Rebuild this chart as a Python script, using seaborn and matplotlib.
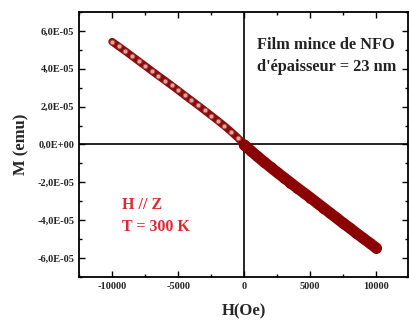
import numpy as np
import pandas as pd
import matplotlib
matplotlib.use("Agg")
import matplotlib.pyplot as plt
import seaborn as sns
from matplotlib.ticker import MultipleLocator

# branche H < 0 (points creux) et H > 0 (points pleins), M en 1E-05 emu
h_left = [-10000, -9500, -9000, -8500, -8000, -7500, -7000, -6500, -6000, -5500,
          -5000, -4500, -4000, -3500, -3000, -2500, -2000, -1500, -1000, -500, 0]
m_left = [5.43, 5.18, 4.93, 4.67, 4.41, 4.15, 3.89, 3.63, 3.38, 3.12,
          2.86, 2.59, 2.33, 2.07, 1.80, 1.53, 1.26, 0.98, 0.68, 0.36, 0.02]
h_right = [0, 500, 1000, 1500, 2000, 2500, 3000, 3500, 4000, 4500, 5000,
           5500, 6000, 6500, 7000, 7500, 8000, 8500, 9000, 9500, 10000]
m_right = [-0.02, -0.33, -0.63, -0.92, -1.20, -1.48, -1.75, -2.02, -2.29, -2.55, -2.81,
           -3.08, -3.35, -3.62, -3.89, -4.16, -4.42, -4.69, -4.95, -5.21, -5.47]

y_ticks = [-6e-5, -4e-5, -2e-5, 0, 2e-5, 4e-5, 6e-5]
y_tick_labels = ['-6,0E-05', '-4,0E-05', '-2,0E-05', '0,0E+00', '2,0E-05', '4,0E-05', '6,0E-05']
x_ticks = [-10000, -5000, 0, 5000, 10000]
x_tick_labels = ['-10000', '-5000', '0', '5000', '10000']

df_l = pd.DataFrame({'H': h_left, 'M': np.array(m_left) * 1e-5})
df_r = pd.DataFrame({'H': h_right, 'M': np.array(m_right) * 1e-5})

sns.set_theme(style="ticks")
plt.rcParams['font.family'] = ['Liberation Serif', 'DejaVu Serif']
plt.rcParams['font.weight'] = 'bold'

fig = plt.figure(figsize=(4.1, 3.25), dpi=100)
ax = fig.add_axes([0.193, 0.148, 0.802, 0.815])

ax.axhline(0, color='black', lw=1.2, zorder=1)
ax.axvline(0, color='black', lw=1.2, zorder=1)

sns.lineplot(data=df_l, x='H', y='M', ax=ax, color='#8b0a0a', lw=5.5,
             solid_capstyle='round', marker='o', markersize=3.5,
             markerfacecolor='#d8a6a0', markeredgecolor='#a83a3a',
             markeredgewidth=0.6, zorder=3)
sns.lineplot(data=df_r, x='H', y='M', ax=ax, color='#8b0000', lw=8,
             solid_capstyle='round', marker='o', markersize=7,
             markerfacecolor='#8b0000', markeredgecolor='#8b0000', zorder=3)

ax.set_xlim(-12500, 12400)
ax.set_ylim(-7e-5, 7e-5)
ax.set_xticks(x_ticks)
ax.set_xticklabels(x_tick_labels)
ax.set_yticks(y_ticks)
ax.set_yticklabels(y_tick_labels)
ax.xaxis.set_minor_locator(MultipleLocator(2500))
ax.yaxis.set_minor_locator(MultipleLocator(1e-5))
ax.tick_params(which='both', direction='in', top=True, right=True, width=1.0,
               labelsize=7.5, color='black')
ax.tick_params(which='major', length=4)
ax.tick_params(which='minor', length=2)
for s in ax.spines.values():
    s.set_color('black')
    s.set_linewidth(1.3)

ax.set_xlabel('H(Oe)', fontsize=12, fontweight='bold', labelpad=9)
ax.set_ylabel('M (emu)', fontsize=12, fontweight='bold', labelpad=6)

ax.text(0.54, 0.834, "Film mince de NFO\nd'épaisseur = 23 nm", transform=ax.transAxes,
        fontsize=11.8, fontweight='bold', color='#222222', ha='left', va='center',
        linespacing=1.55)
ax.text(0.13, 0.23, "H // Z\nT = 300 K", transform=ax.transAxes,
        fontsize=11.5, fontweight='bold', color='#e02a32', ha='left', va='center',
        linespacing=1.45)

fig.savefig('out.png', dpi=100)
